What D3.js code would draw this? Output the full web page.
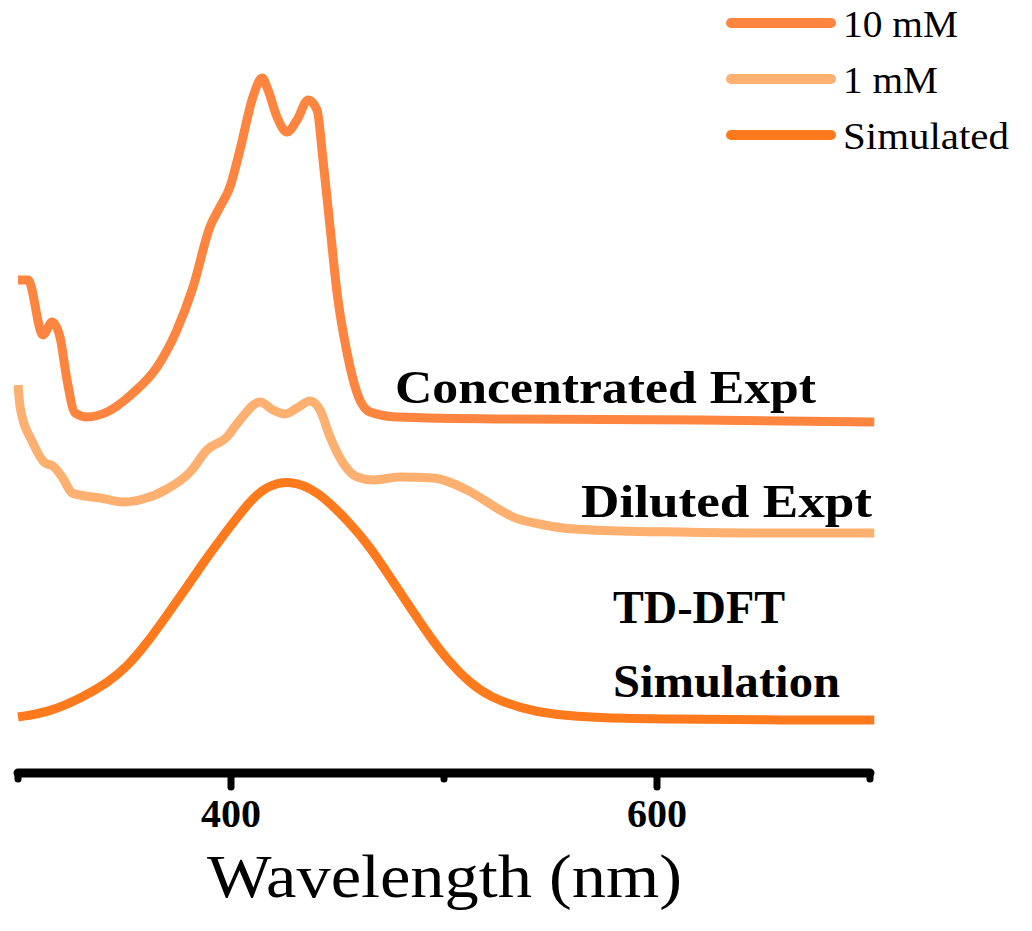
<!DOCTYPE html>
<html>
<head>
<meta charset="utf-8">
<script src="https://cdn.jsdelivr.net/npm/d3@7"></script>
<style>
  body { margin: 0; background: #fff; }
  svg text { font-family: "Liberation Serif", "Times New Roman", serif; fill: #000; }
</style>
</head>
<body>
<svg id="chart" width="1032" height="931"></svg>
<script>
// spectra (wavelength in nm, offset intensity in a.u.)
const concWl = [300, 304.7, 311.7, 316, 319.7, 323, 326.8, 332.4, 341.8, 354, 365.3, 374.6, 382.2, 390.1, 394.8, 399.5, 404.2, 410.3, 414.6, 417.4, 421.6, 426.3, 431, 436.2, 440.4, 443.2, 446.5, 449.8, 454.5, 459.2, 465.3, 478, 526, 620, 702]
const concVal = [4.40, 4.40, 3.85, 3.98, 3.83, 3.40, 3.07, 3.03, 3.08, 3.27, 3.53, 3.90, 4.33, 4.93, 5.13, 5.33, 5.70, 6.23, 6.42, 6.30, 6.03, 5.88, 6.00, 6.20, 6.10, 5.60, 4.93, 4.27, 3.67, 3.27, 3.08, 3.03, 3.01, 3.00, 2.98]

const dilWl = [300, 301, 307, 312.7, 316.4, 320.7, 325.4, 329, 338.5, 349.3, 358.7, 370, 380.8, 388.7, 398.1, 404.2, 413.6, 419.7, 425.4, 431, 437.1, 441.8, 446.5, 452.6, 459.2, 466.7, 479.3, 494.8, 510.8, 526.3, 532.4, 545, 555.9, 582.6, 610.8, 657.7, 702]
const dilVal = [3.35, 3.13, 2.77, 2.57, 2.54, 2.43, 2.27, 2.25, 2.22, 2.18, 2.21, 2.31, 2.48, 2.70, 2.83, 3.00, 3.18, 3.10, 3.06, 3.12, 3.19, 3.10, 2.83, 2.57, 2.43, 2.40, 2.43, 2.42, 2.30, 2.10, 2.03, 1.96, 1.92, 1.89, 1.88, 1.87, 1.87]

const simWl = [300, 315, 330.5, 341.8, 351.2, 360.6, 370, 379.3, 386.9, 393.4, 409, 416.9, 427.7, 440.4, 455.9, 465.3, 474.6, 484, 493.4, 502.8, 512.2, 521.6, 535.7, 551.2, 574.6, 606, 650, 702]
const simVal = [0.03, 0.08, 0.23, 0.37, 0.53, 0.77, 1.05, 1.33, 1.57, 1.76, 2.20, 2.34, 2.40, 2.30, 1.97, 1.73, 1.43, 1.13, 0.83, 0.57, 0.37, 0.23, 0.12, 0.05, 0.02, 0.01, 0.00, 0.00]

const seriesNames = ['10 mM', '1 mM', 'Simulated']
const seriesColors = ['#fd8540', '#fdb070', '#fe7a1c']
const majorTicks = [400, 600]
const minorTicks = [300, 500, 700]
const xTitle = 'Wavelength (nm)'

const svg = d3.select('#chart')

let x = d3.scaleLinear().domain([300, 700]).range([18, 870])
let y = d3.scaleLinear().domain([0, 7.2]).range([720, 0])

// measured spectra keep their sharp peaks, the simulated band is smoothed
const expLine = d3.line()
  .x(d => x(d[0]))
  .y(d => y(d[1]))
  .curve(d3.curveMonotoneX)
const simLine = d3.line()
  .x(d => x(d[0]))
  .y(d => y(d[1]))
  .curve(d3.curveBasis)

const series = [
  d3.zip(concWl, concVal),
  d3.zip(dilWl, dilVal),
  d3.zip(simWl, simVal)
]

svg.selectAll('path.spec')
  .data(series)
  .enter()
  .append('path')
  .attr('class', 'spec')
  .attr('d', (d, i) => i == 2 ? simLine(d) : expLine(d))
  .attr('fill', 'none')
  .attr('stroke', (d, i) => seriesColors[i])
  .attr('stroke-width', 9)
  .attr('stroke-linejoin', 'round')

// x axis: thick line, long ticks at labelled values, short ones between
const axisY = 773
const ax = svg.append('g')
ax.append('line')
  .attr('x1', x(300)).attr('x2', x(700))
  .attr('y1', axisY).attr('y2', axisY)
  .attr('stroke', '#000').attr('stroke-width', 9).attr('stroke-linecap', 'round')

ax.selectAll('line.major')
  .data(majorTicks)
  .enter()
  .append('line')
  .attr('class', 'major')
  .attr('x1', d => x(d)).attr('x2', d => x(d))
  .attr('y1', axisY).attr('y2', axisY + 14)
  .attr('stroke', '#000').attr('stroke-width', 7).attr('stroke-linecap', 'round')

ax.selectAll('line.minor')
  .data(minorTicks)
  .enter()
  .append('line')
  .attr('class', 'minor')
  .attr('x1', d => x(d)).attr('x2', d => x(d))
  .attr('y1', axisY).attr('y2', axisY + 6)
  .attr('stroke', '#000').attr('stroke-width', 7).attr('stroke-linecap', 'round')

ax.selectAll('text.tick')
  .data(majorTicks)
  .enter()
  .append('text')
  .attr('class', 'tick')
  .text(d => d)
  .attr('x', d => x(d))
  .attr('y', 827)
  .attr('text-anchor', 'middle')
  .style('font-size', '40px')
  .style('font-weight', 'bold')

svg.append('text')
  .text(xTitle)
  .attr('x', 207)
  .attr('y', 897)
  .attr('textLength', 475)
  .attr('lengthAdjust', 'spacingAndGlyphs')
  .style('font-size', '62px')

// curve annotations
const notes = [
  {t: 'Concentrated Expt', x: 395, y: 403, w: 421},
  {t: 'Diluted Expt', x: 581, y: 517, w: 291},
  {t: 'TD-DFT', x: 613, y: 623, w: 172},
  {t: 'Simulation', x: 613, y: 697, w: 227}
]
svg.selectAll('text.note')
  .data(notes)
  .enter()
  .append('text')
  .attr('class', 'note')
  .text(d => d.t)
  .attr('x', d => d.x)
  .attr('y', d => d.y)
  .attr('textLength', d => d.w)
  .attr('lengthAdjust', 'spacingAndGlyphs')
  .style('font-size', '46px')
  .style('font-weight', 'bold')

// legend
const leg = svg.selectAll('g.leg')
  .data(seriesNames)
  .enter()
  .append('g')
  .attr('class', 'leg')
  .attr('transform', (d, i) => 'translate(0,' + (23 + i * 56) + ')')

leg.append('line')
  .attr('x1', 731).attr('x2', 831)
  .attr('stroke', (d, i) => seriesColors[i])
  .attr('stroke-width', 10)
  .attr('stroke-linecap', 'round')

const legW = [115, 95, 166]
leg.append('text')
  .text(d => d)
  .attr('x', 843)
  .attr('y', 14)
  .attr('textLength', (d, i) => legW[i])
  .attr('lengthAdjust', 'spacingAndGlyphs')
  .style('font-size', '37px')
</script>
</body>
</html>
